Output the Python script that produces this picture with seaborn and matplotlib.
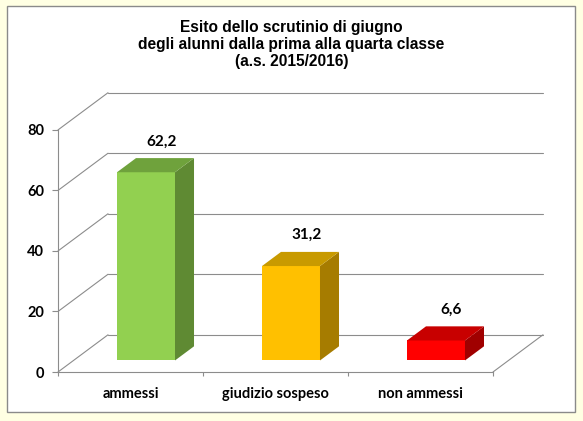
import matplotlib
matplotlib.use("Agg")
import matplotlib.pyplot as plt
from matplotlib.patches import Rectangle, Polygon
import seaborn as sns

# chart data
categories = ["ammessi", "giudizio sospeso", "non ammessi"]
values = [62.2, 31.2, 6.6]
y_ticks = [0, 20, 40, 60, 80]
title = ("Esito dello scrutinio di giugno\n"
         "degli alunni dalla prima alla quarta classe\n"
         "(a.s. 2015/2016)")

# colours: front / top / side of each bar
front_colors = ["#92D050", "#FFC000", "#FF0000"]
top_colors = ["#6FA23C", "#C89A00", "#C80000"]
side_colors = ["#5F8A33", "#A67C00", "#A00000"]

# fake 3d geometry (oblique projection), in data units
DX, DY = 0.345, 12.3        # full depth offset of the walls
D0, D1 = 0.31, 0.69         # bar front / back depth fractions
GRID = "#8C8C8C"
LABEL_FONT = ["Lato", "DejaVu Sans"]

sns.set_style("white")
fig = plt.figure(figsize=(5.83, 4.21), dpi=100, facecolor="#FFFFE3")
W, H = 583, 421

# white chart area with grey frame
fig.patches.append(Rectangle((7 / W, (H - 412) / H), 568 / W, 406 / H,
                             transform=fig.transFigure, facecolor="white",
                             edgecolor="#8A8A8A", linewidth=1.0, zorder=-1))

fig.text(0.5, 1 - 20 / H, title, ha="center", va="top", fontsize=11.2,
         fontweight="bold", family=["Liberation Sans", "DejaVu Sans"],
         linespacing=1.17, color="black")

ax = fig.add_axes([58 / W, (H - 372) / H, 485 / W, 279.3 / H])
ax.set_facecolor("none")

sns.barplot(x=categories, y=values, hue=categories, palette=front_colors,
            saturation=1, width=0.4, legend=False, ax=ax, zorder=3,
            linewidth=0)

ax.set_xlim(-0.5, 2.5 + DX)
ax.set_ylim(0, y_ticks[-1] + DY)

# walls: back gridlines and left-wall diagonals
for v in y_ticks:
    ax.plot([-0.5 + DX, 2.5 + DX], [v + DY, v + DY], color=GRID, lw=0.8,
            zorder=1, clip_on=False)
    ax.plot([-0.5, -0.5 + DX], [v, v + DY], color=GRID, lw=0.8, zorder=1,
            clip_on=False)
# right floor edge
ax.plot([2.5, 2.5 + DX], [0, DY], color=GRID, lw=0.8, zorder=1, clip_on=False)

bars = list(ax.patches)
bdx, bdy = (D1 - D0) * DX, (D1 - D0) * DY
for i, (bar, val) in enumerate(zip(bars, values)):
    bar.set_x(bar.get_x() + D0 * DX)
    bar.set_y(D0 * DY)
    bar.set_height(val)
    x0, x1 = bar.get_x(), bar.get_x() + bar.get_width()
    y0, y1 = bar.get_y(), bar.get_y() + val
    side = Polygon([(x1, y0), (x1 + bdx, y0 + bdy), (x1 + bdx, y1 + bdy), (x1, y1)],
                   closed=True, facecolor=side_colors[i], edgecolor="none", zorder=3)
    top = Polygon([(x0, y1), (x1, y1), (x1 + bdx, y1 + bdy), (x0 + bdx, y1 + bdy)],
                  closed=True, facecolor=top_colors[i], edgecolor="none", zorder=3)
    ax.add_patch(side)
    ax.add_patch(top)
    ax.text((x0 + x1) / 2 + bdx * 0.8, y1 + bdy + 5.5,
            f"{val:.1f}".replace(".", ","), ha="center", va="center",
            fontsize=11, fontweight="bold", family=LABEL_FONT, color="black",
            zorder=4)

# axes lines and ticks
for s in ["top", "right"]:
    ax.spines[s].set_visible(False)
ax.spines["left"].set_bounds(0, y_ticks[-1])
ax.spines["bottom"].set_bounds(-0.5, 2.5)
for s in ["left", "bottom"]:
    ax.spines[s].set_color(GRID)
    ax.spines[s].set_linewidth(0.8)

ax.set_yticks(y_ticks)
ax.set_yticklabels([str(v) for v in y_ticks])
ax.set_xticks(range(len(categories)))
ax.set_xticklabels(categories)
ax.set_xticks([-0.5, 0.5, 1.5, 2.5], minor=True)
ax.tick_params(axis="y", length=4, width=0.8, color=GRID, pad=6, left=True,
               labelcolor="black")
ax.tick_params(axis="x", which="major", length=0, pad=11, labelcolor="black")
ax.tick_params(axis="x", which="minor", length=3, width=0.8, color=GRID, bottom=True)
for lab in ax.get_xticklabels() + ax.get_yticklabels():
    lab.set_fontweight("bold")
    lab.set_family(LABEL_FONT)
    lab.set_fontsize(10.5)
ax.set_xlabel("")
ax.set_ylabel("")

fig.savefig("out.png", dpi=100, facecolor=fig.get_facecolor())
